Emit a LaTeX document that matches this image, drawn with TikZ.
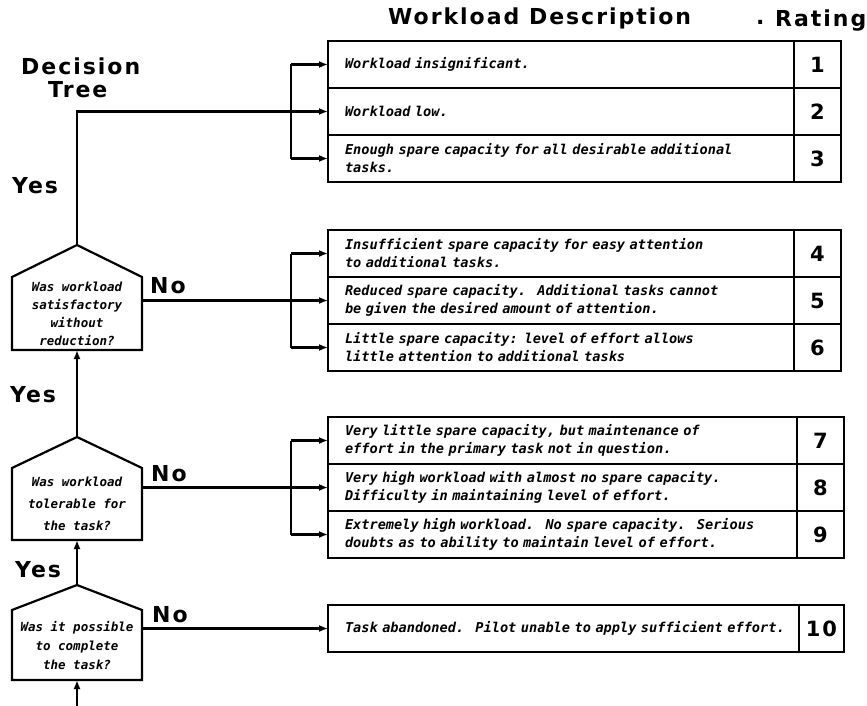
\documentclass[tikz,border=0pt]{standalone}
\usepackage{fontspec}
\usetikzlibrary{arrows.meta}
\newfontfamily\dispfont[LetterSpace=9]{DejaVu Sans}
\newfontfamily\typefont{DejaVu Sans Mono}

\begin{document}
\begin{tikzpicture}[x=1pt,y=-1pt,
  heading/.style={font=\dispfont\bfseries\fontsize{22}{24}\selectfont, inner sep=0pt, anchor=base west},
  desccell/.style={draw, line width=2.2pt, outer sep=0pt, anchor=west, minimum height=47pt,
    inner xsep=17pt, inner ysep=2pt, align=left,
    font=\typefont\bfseries\itshape\fontsize{13.6}{18}\selectfont},
  ratecell/.style={draw, line width=2.2pt, outer sep=0pt, anchor=west, minimum height=47pt,
    minimum width=47pt, inner sep=0pt, font=\dispfont\bfseries\fontsize{21}{24}\selectfont},
  question/.style={outer sep=0pt, minimum width=130pt, inner sep=0pt, align=center,
    font=\typefont\bfseries\itshape\fontsize{12.5}{18}\selectfont},
  house/.style={line width=2.2pt, line join=miter},
  conn/.style={line width=2.2pt, -{Latex[length=9pt,width=7pt]}},
  wire/.style={line width=2.2pt},
]
\fill[white] (0,0) rectangle (867,706);
\useasboundingbox (0,0) rectangle (867,706);

% ---- headings ----
\node[heading] (ttl) at (388,25) {Workload Description};
\node[heading] (dot) at (756,25) {.};
\node[heading] (rat) at (775,27) {Rating};
\node[heading] (dec) at (21,75) {Decision};
\node[heading] (tree) at (48,98) {Tree};

% ---- rating table, group 1 ----
\node[desccell, text width=432pt] (d1) at (328,64.5) {\mbox{Workload insignificant.}};
\node[desccell, text width=432pt] (d2) at (328,111.5) {\mbox{Workload low.}};
\node[desccell, text width=432pt] (d3) at (328,158.5) {\mbox{Enough spare capacity for all desirable additional}\\tasks.};
\node[ratecell] (r1) at (d1.east) {1};
\node[ratecell] (r2) at (d2.east) {2};
\node[ratecell] (r3) at (d3.east) {3};

% ---- group 2 ----
\node[desccell, text width=432pt] (d4) at (328,253.5) {\mbox{Insufficient spare capacity for easy attention}\\\mbox{to additional tasks.}};
\node[desccell, text width=432pt] (d5) at (328,300.5) {\mbox{Reduced spare capacity.~ Additional tasks cannot}\\\mbox{be given the desired amount of attention.}};
\node[desccell, text width=432pt] (d6) at (328,347.5) {\mbox{Little spare capacity: level of effort allows}\\\mbox{little attention to additional tasks}};
\node[ratecell] (r4) at (d4.east) {4};
\node[ratecell] (r5) at (d5.east) {5};
\node[ratecell] (r6) at (d6.east) {6};

% ---- group 3 ----
\node[desccell, text width=435pt] (d7) at (328,440.5) {\mbox{Very little spare capacity, but maintenance of}\\\mbox{effort in the primary task not in question.}};
\node[desccell, text width=435pt] (d8) at (328,487.5) {\mbox{Very high workload with almost no spare capacity.}\\\mbox{Difficulty in maintaining level of effort.}};
\node[desccell, text width=435pt] (d9) at (328,534.5) {\mbox{Extremely high workload.~ No spare capacity.~ Serious}\\\mbox{doubts as to ability to maintain level of effort.}};
\node[ratecell] (r7) at (d7.east) {7};
\node[ratecell] (r8) at (d8.east) {8};
\node[ratecell] (r9) at (d9.east) {9};

% ---- group 4 ----
\node[desccell, text width=437pt] (d10) at (328,628.5) {\mbox{Task abandoned.~ Pilot unable to apply sufficient effort.}};
\node[ratecell, minimum width=45pt] (r10) at (d10.east) {10};

% ---- decision boxes ----
\node[question, minimum height=73pt] (q1) at (77,313.5) {Was workload\\satisfactory\\without\\reduction?};
\node[question, minimum height=72pt, font=\typefont\bfseries\itshape\fontsize{12.5}{22}\selectfont] (q2) at (77,504) {Was workload\\tolerable for\\the task?};
\node[question, minimum height=70pt, font=\typefont\bfseries\itshape\fontsize{12.5}{19}\selectfont] (q3) at (77,645) {Was it possible\\to complete\\the task?};
\coordinate (q1top) at ([yshift=32pt]q1.north);
\coordinate (q2top) at ([yshift=31pt]q2.north);
\coordinate (q3top) at ([yshift=25pt]q3.north);
\draw[house] (q1.south west) -- (q1.north west) -- (q1top) -- (q1.north east) -- (q1.south east) -- cycle;
\draw[house] (q2.south west) -- (q2.north west) -- (q2top) -- (q2.north east) -- (q2.south east) -- cycle;
\draw[house] (q3.south west) -- (q3.north west) -- (q3top) -- (q3.north east) -- (q3.south east) -- cycle;

% ---- answers ----
\node[heading] (yes1) at (12,193) {Yes};
\node[heading] (yes2) at (10,402) {Yes};
\node[heading] (yes3) at (15,577) {Yes};
\node[heading] (no1) at (150,293) {No};
\node[heading] (no2) at (151,481) {No};
\node[heading] (no3) at (152,622) {No};

% ---- connectors ----
\coordinate (bus) at (291,0);
\coordinate (entry) at (77,706);

\draw[conn] (entry) -- (q3.south);
\draw[conn] (q3top) -- (q2.south);
\draw[conn] (q2top) -- (q1.south);
\draw[conn] (q1top) |- (d2.west);
\draw[conn] (q1.east |- d5.west) -- (d5.west);
\draw[conn] (q2.east |- d8.west) -- (d8.west);
\draw[conn] (q3.east |- d10.west) -- (d10.west);

\draw[wire] (bus |- d1.west) -- (bus |- d3.west);
\draw[conn] (bus |- d1.west) -- (d1.west);
\draw[conn] (bus |- d3.west) -- (d3.west);

\draw[wire] (bus |- d4.west) -- (bus |- d6.west);
\draw[conn] (bus |- d4.west) -- (d4.west);
\draw[conn] (bus |- d6.west) -- (d6.west);

\draw[wire] (bus |- d7.west) -- (bus |- d9.west);
\draw[conn] (bus |- d7.west) -- (d7.west);
\draw[conn] (bus |- d9.west) -- (d9.west);
\end{tikzpicture}
\end{document}
